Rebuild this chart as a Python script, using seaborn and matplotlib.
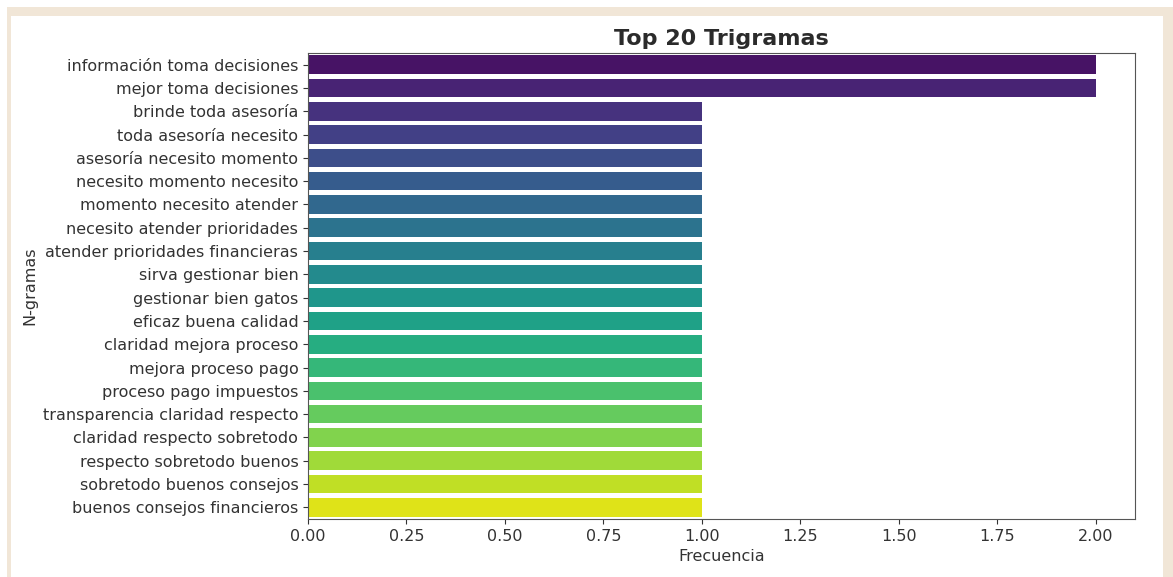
import matplotlib
matplotlib.use("Agg")
import matplotlib.pyplot as plt
from matplotlib.patches import Rectangle
import seaborn as sns
import pandas as pd

# Top 20 trigramas y su frecuencia
trigramas = [
    "información toma decisiones",
    "mejor toma decisiones",
    "brinde toda asesoría",
    "toda asesoría necesito",
    "asesoría necesito momento",
    "necesito momento necesito",
    "momento necesito atender",
    "necesito atender prioridades",
    "atender prioridades financieras",
    "sirva gestionar bien",
    "gestionar bien gatos",
    "eficaz buena calidad",
    "claridad mejora proceso",
    "mejora proceso pago",
    "proceso pago impuestos",
    "transparencia claridad respecto",
    "claridad respecto sobretodo",
    "respecto sobretodo buenos",
    "sobretodo buenos consejos",
    "buenos consejos financieros",
]
frecuencias = [2, 2, 1, 1, 1, 1, 1, 1, 1, 1, 1, 1, 1, 1, 1, 1, 1, 1, 1, 1]

df = pd.DataFrame({"ngrama": trigramas, "frecuencia": frecuencias})

fig = plt.figure(figsize=(11.73, 5.77), dpi=100)
fig.patch.set_facecolor("white")

# marco beige de la captura
W, H = 1173, 577
fig.patches.append(Rectangle((7 / W, 0), 1 - 7 / W, (H - 7) / H,
                             transform=fig.transFigure, facecolor="#f1e6d7",
                             edgecolor="none", zorder=-2))
fig.patches.append(Rectangle((11 / W, 0), (1163 - 11) / W, (H - 16) / H,
                             transform=fig.transFigure, facecolor="white",
                             edgecolor="none", zorder=-1))

ax = fig.add_axes([308 / W, 1 - 519 / H, (1135 - 308) / W, (519 - 53) / H])
sns.barplot(data=df, x="frecuencia", y="ngrama", hue="ngrama",
            palette="viridis", saturation=1, legend=False, ax=ax)

ax.set_xlim(0, 2.1)
ax.set_title("Top 20 Trigramas", fontsize=16, fontweight="bold", color="#2b2b2b")
ax.set_xlabel("Frecuencia", fontsize=11.5, color="#333333")
ax.set_ylabel("N-gramas", fontsize=11.5, color="#333333")
ax.tick_params(labelsize=11.5, colors="#333333")
for s in ax.spines.values():
    s.set_color("#555555")

fig.savefig("out.png", dpi=100, facecolor=fig.get_facecolor())
